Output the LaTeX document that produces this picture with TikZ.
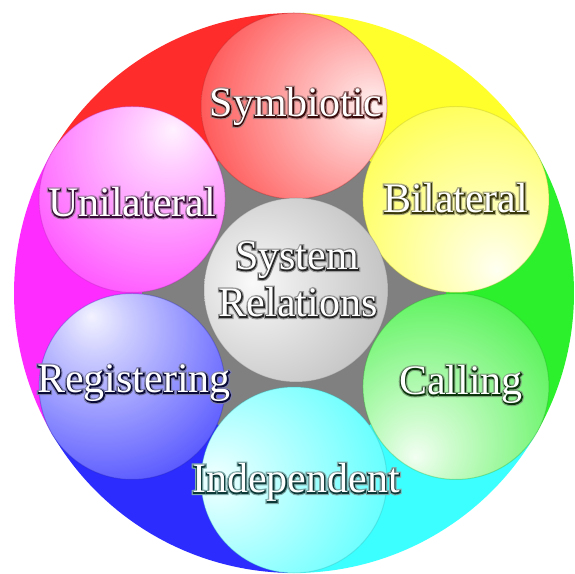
\documentclass[tikz,border=0pt]{standalone}
\usepackage{fontspec}
\setmainfont{Liberation Serif}
\newfontfamily\halofont{Liberation Serif}[FakeBold=4.5]
\newfontfamily\glowfont{Liberation Serif}[FakeBold=10]
\usetikzlibrary{calc}

% band and sphere colours
\definecolor{cRed}{RGB}{255,44,44}
\definecolor{cYellow}{RGB}{255,255,44}
\definecolor{cGreen}{RGB}{44,240,44}
\definecolor{cCyan}{RGB}{60,255,255}
\definecolor{cBlue}{RGB}{44,44,255}
\definecolor{cMagenta}{RGB}{255,44,255}
\definecolor{cHub}{RGB}{128,128,128}
\definecolor{cSilver}{RGB}{168,168,168}

% glossy sphere shadings, one per highlight position
\colorlet{sph}{red}
\newcommand\declglossy[3]{%
  \pgfdeclareradialshading[sph]{#1}{\pgfpoint{#2bp}{#3bp}}{%
    color(0bp)=(sph!6!white);
    color(9bp)=(sph!24!white);
    color(30bp)=(sph!62!white);
    color(46bp)=(sph!92!white);
    color(50bp)=(sph);
    color(100bp)=(sph)}}
\declglossy{glossyE}{22}{0}
\declglossy{glossyNE}{11}{19}
\declglossy{glossyNW}{-11}{19}
\declglossy{glossyW}{-22}{0}
\declglossy{glossySW}{-11}{-19}
\declglossy{glossySE}{11}{-19}
\declglossy{glossyC}{-12}{2}

% white lettering over a soft glow and a dark tinted outline
\newcommand\halo[2]{%
  \leavevmode
  \rlap{\glowfont\color{#1!40!black!55!white}#2}%
  \rlap{\halofont\color{#1!22!black}#2}%
  \textcolor{white}{#2}}

\tikzset{
  sphere/.style={circle, minimum size=186bp, inner sep=0pt,
    /utils/exec={\colorlet{sph}{#1}},
    draw=#1!70!black, draw opacity=0.3, line width=1bp},
  lbl/.style={anchor=base, inner sep=0pt,
    font=\fontsize{42bp}{46bp}\selectfont},
}

\begin{document}
\begin{tikzpicture}[x=1bp, y=1bp]
  \useasboundingbox (0,0) rectangle (575,574);
  \fill[white] (0,0) rectangle (575,574);

  \coordinate (C) at (294,281);

  % coloured wedges of the outer disc
  \foreach \c/\a in {cRed/90, cMagenta/150, cBlue/210, cCyan/270, cGreen/330, cYellow/30}
    \fill[\c] (C) -- +(\a:280) arc[start angle=\a, delta angle=60.6, radius=280] -- cycle;

  % grey hub behind the spheres
  \fill[cHub] (C) circle (152);

  % outer spheres
  \node[sphere=cRed,     shading=glossyE]  (sSym) at ($(C)+(90:187)$)  {};
  \node[sphere=cMagenta, shading=glossyNE] (sUni) at ($(C)+(150:187)$) {};
  \node[sphere=cBlue,    shading=glossyNW] (sReg) at ($(C)+(210:187)$) {};
  \node[sphere=cCyan,    shading=glossyW]  (sInd) at ($(C)+(270:187)$) {};
  \node[sphere=cGreen,   shading=glossySW] (sCal) at ($(C)+(330:187)$) {};
  \node[sphere=cYellow,  shading=glossySE] (sBil) at ($(C)+(30:187)$)  {};

  % centre sphere
  \node[sphere=cSilver, minimum size=184bp, shading=glossyC] (sCtr) at (296,284) {};

  % labels
  \node[lbl] (tSym) at ($(sSym)+(2,-11)$)   {\halo{cRed}{Symbiotic}};
  \node[lbl] (tUni) at ($(sUni)+(0,-17.5)$) {\halo{cMagenta}{Unilateral}};
  \node[lbl] (tReg) at ($(sReg)+(2,-6.5)$)  {\halo{cBlue}{Registering}};
  \node[lbl] (tInd) at ($(sInd)+(2,-13)$)   {\halo{cCyan}{Independent}};
  \node[lbl] (tCal) at ($(sCal)+(5,-8.5)$)  {\halo{cGreen}{Calling}};
  \node[lbl] (tBil) at ($(sBil)+(0,-13.5)$) {\halo{cYellow}{Bilateral}};
  \node[lbl] (tSys) at ($(sCtr)+(1,20)$)    {\halo{cSilver}{System}};
  \node[lbl] (tRel) at ($(sCtr)+(2,-27)$)   {\halo{cSilver}{Relations}};
\end{tikzpicture}
\end{document}
